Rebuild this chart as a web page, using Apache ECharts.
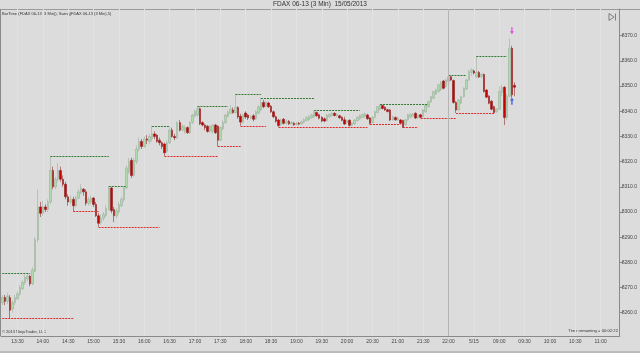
<!DOCTYPE html>
<html><head><meta charset="utf-8">
<script src="https://cdn.jsdelivr.net/npm/echarts@6/dist/echarts.min.js"></script>
<style>html,body{margin:0;padding:0;background:#dcdcdc;}#c{width:640px;height:353px;}</style>
</head><body><div id="c"></div>
<script>
// ---- axis text ----
const chartTitle = 'FDAX 06-13 (3 Min)  15/05/2013';
const indicatorText = 'BarTimer(FDAX 06-13 (3 Min)), Swing(FDAX 06-13 (3 Min),5)';
const copyrightText = '\u00A9 2013 NinjaTrader, LLC';
const timerText = 'Time remaining = 00:02:22';
const xTickLabels = ['13:30','14:00','14:30','15:00','15:30','16:00','16:30','17:00','17:30','18:00','18:30','19:00','19:30','20:00','20:30','21:00','21:30','22:00','5/15','09:00','09:30','10:00','10:30','11:00'];
const firstTickBar = 6, barsPerTick = 10, slotCount = 244, sessionBreakBar = 176;
const yTickValues = [8260,8270,8280,8290,8300,8310,8320,8330,8340,8350,8360,8370];

// ---- 3-minute bars ----
const opens = [8264,8266,8264.5,8266,8261.5,8264,8265.5,8267.5,8269.5,8272,8273.5,8274.5,8271.5,8276.5,8289,8302,8299.5,8302,8301,8304,8316.5,8310,8313,8316.5,8313,8311,8306,8304,8305,8302.5,8305.5,8307.5,8309,8308,8303.5,8304,8305.5,8303,8298.5,8295.8,8297.5,8298.5,8301,8309.5,8301,8298.5,8300,8302.5,8305,8309.5,8316,8320.5,8314.5,8320,8325,8328,8326,8329,8328,8329,8331,8330.5,8328.5,8327.5,8327,8324,8327.5,8332.5,8330,8329.5,8335.5,8332.5,8332,8333.5,8331.5,8335.5,8338,8338.5,8341,8335.5,8334.5,8334,8332,8332,8334.5,8334,8328.5,8333,8335.5,8338,8339.2,8340.5,8339.5,8341.5,8338,8335.7,8339.3,8338.5,8337.3,8338.2,8337,8339.2,8340.5,8343.5,8342,8343.3,8342,8339.8,8337.8,8336.5,8334.7,8336.8,8335.2,8336,8335,8335.2,8334.8,8335.2,8335,8335.6,8336.4,8336.6,8337.4,8337.8,8339.5,8338.6,8337.6,8337,8336.3,8337.8,8338.3,8339.2,8338.4,8338.2,8337.6,8336.6,8335.4,8336.4,8334.5,8335,8336.3,8337,8337.6,8337.8,8338.5,8337.3,8335.6,8337.6,8339.5,8340.8,8342.3,8341.6,8340.6,8340.5,8336.6,8337.5,8336.6,8336.5,8336.3,8334.7,8336.6,8337.6,8338.2,8339.2,8337.4,8338.6,8337.8,8339.8,8341.8,8343.8,8345.2,8346.8,8347.8,8348.5,8352,8349.8,8351.7,8353.7,8352.2,8343.5,8340.5,8343.2,8345.8,8348.8,8352.4,8355.4,8356,8353.6,8355.4,8353.8,8354.6,8348.4,8346,8344,8341.8,8339.8,8340.8,8347.5,8349.5,8337.5,8346,8365,8350.3];
const closes = [8266,8264.5,8266.5,8261,8264,8266,8267.5,8270,8272,8274,8274.5,8271.5,8277,8289,8302,8299.5,8302,8301,8304,8316.5,8310,8313,8316.5,8313,8311,8306,8304,8305,8302.5,8305.5,8308,8309.5,8308,8303.5,8305,8305.5,8303,8298.5,8295.5,8297.5,8299,8301.5,8309.5,8300.5,8298.5,8300.5,8303,8305,8309.5,8317.5,8320,8314.5,8320.5,8325,8328,8326,8329,8328.5,8330,8331,8330,8328,8327.5,8326,8323.5,8327.5,8332.5,8330,8329.5,8335.5,8332.5,8334,8333.5,8331.5,8335.5,8338.5,8340,8341,8335,8334.5,8333.5,8332,8334,8334.5,8331.5,8328.5,8333.5,8335.5,8338.5,8339.8,8340.8,8339.5,8341.5,8337.7,8335.7,8338.5,8337.7,8337.3,8337.8,8336.8,8339.8,8341.8,8343.5,8341.8,8343.5,8341.8,8339.8,8337.8,8336,8334.3,8336.5,8335.2,8336,8335,8335.5,8334.6,8335.2,8334.9,8335.8,8336.6,8337.4,8337.8,8338.5,8339.8,8338.2,8337.2,8336.1,8336.1,8338.5,8338.8,8339.2,8338.3,8338.8,8337.4,8336.4,8334.9,8336.3,8334.4,8335.3,8336.5,8337.6,8338.3,8338.7,8339,8337,8335.2,8337.6,8339.8,8341.8,8342.3,8341.1,8340.5,8339.9,8336.5,8337.8,8336.6,8337.3,8335.2,8333.6,8336.6,8338.6,8338.8,8338.9,8337.3,8338.4,8337.6,8340.5,8342.5,8343.8,8345.8,8347.8,8348.4,8350.5,8351.5,8349.1,8352.4,8353.7,8352.4,8343.5,8340.5,8344.5,8345.8,8349.1,8352.4,8355.7,8356.4,8355.2,8355.4,8353.6,8354.6,8347.8,8345.6,8343.2,8340.8,8339.5,8340.8,8347.8,8349.5,8337.5,8346,8365,8346.5,8349.5];
const lows = [8263,8263,8263.5,8257.9,8260,8263,8265,8266.5,8269,8271,8272.5,8270.5,8271,8276,8288,8298,8298.5,8300,8300,8303,8309,8309,8312,8312,8310,8305,8302.5,8303,8300.4,8302,8305,8307,8306.5,8302.5,8302.5,8303,8302,8298,8294.1,8295,8296.5,8298,8300.5,8299.5,8296,8297.5,8299,8302,8304,8309,8315,8313.5,8314,8319,8324,8325,8325.5,8327,8327,8328,8329,8327.5,8326.5,8325,8322.2,8323.5,8327,8329.5,8328.5,8329,8332,8332,8331,8331,8331,8335,8337.5,8338,8334.5,8334,8332.5,8331.5,8331.5,8331,8331,8326,8328,8332.5,8335,8337.5,8338.8,8339,8339,8337,8334.2,8335,8337,8336.5,8336.8,8336,8336.5,8338.8,8340,8341.2,8341.5,8341.3,8339.3,8337.3,8335.5,8333.7,8334.2,8334.7,8334.8,8334.5,8334.5,8334.2,8334.3,8334.4,8334.6,8335.2,8336,8336.2,8337,8337.3,8337.8,8336.8,8335.6,8335.6,8335.9,8337.4,8337.9,8337.9,8337.6,8337,8336,8334.5,8335,8333.9,8334.1,8334.6,8335.9,8336.6,8337.2,8337.4,8336.6,8334.7,8335.2,8337.2,8339.1,8340.4,8340.7,8340.1,8339.5,8336.1,8336.2,8336.2,8336.2,8334.8,8333.5,8334.3,8336.2,8337.2,8337.8,8336.9,8337,8337.3,8337.4,8339.4,8341.4,8343.4,8344.8,8346.4,8347.4,8348.1,8348.7,8349.4,8351.3,8352,8343,8339.3,8340.1,8342.8,8345.4,8348.4,8352,8354,8354.6,8353.2,8353.2,8353.2,8347.4,8345.2,8342.8,8340.4,8339.3,8339.4,8340.4,8346,8334.5,8336.5,8345.5,8345.3,8346];
const highs = [8267,8267,8268,8267,8265,8267,8268.5,8271,8273,8275,8275.5,8275,8278,8290,8309,8304,8304.5,8303,8305,8322.2,8318,8314,8319.5,8318,8314.5,8312,8307,8306.5,8306,8306.5,8309,8311,8309.5,8309,8306,8306.5,8306,8304,8299.5,8299,8300,8302.5,8310.3,8310,8302,8301.5,8304,8306,8310,8318.5,8321.5,8321.5,8321.5,8326.5,8329.5,8329,8330,8330.5,8331,8334.2,8332,8331,8329.5,8328,8327.5,8328.5,8334,8333.5,8331,8336,8336.5,8335,8334.5,8334,8336,8339,8340.5,8341.8,8341.5,8336,8335,8334.5,8334.5,8335,8335,8334.5,8334,8336.5,8339,8340.3,8342.5,8341.5,8346.9,8342,8339,8339,8340,8339,8338.5,8338.8,8340.3,8342.3,8345.3,8344.5,8344,8343.8,8342.5,8340.3,8338.3,8337,8337,8337.3,8336.8,8336.5,8336,8335.8,8335.8,8335.8,8336.3,8337.2,8338,8338.4,8339,8340.2,8339.9,8339,8338,8337.5,8338.9,8339.2,8339.6,8339.6,8339.2,8338.6,8338,8337.8,8336.7,8336.8,8335.7,8336.9,8338,8338.7,8339.1,8339.5,8339,8337.7,8338,8340.2,8342.2,8342.7,8342.6,8342,8341,8340.9,8338.2,8337.9,8337.9,8336.9,8336.7,8337,8339,8339.2,8339.3,8339.6,8338.8,8339,8340.9,8342.9,8344.2,8346.2,8348.2,8348.9,8350.9,8352,8352.4,8352.8,8354.4,8354.1,8352.6,8344,8344.9,8346.2,8349.5,8352.9,8356.4,8357,8356.6,8362,8356,8355,8355,8348.8,8346.4,8344.4,8342.2,8341.2,8349.8,8350.5,8350,8347,8369,8366,8351.5];

// ---- Swing indicator levels: start bar, end bar, price ----
const swingHighStart = [0,19,42,59,77,92,102,123,149,176,187];
const swingHighEnd   = [11,42,49,66,89,102,123,141,168,183,199];
const swingHighPrice = [8275.8,8322.2,8310.3,8334.2,8341.8,8346.9,8345.3,8340.2,8342.7,8354.4,8362];
const swingLowStart  = [0,28,38,64,85,94,109,145,158,165,179];
const swingLowEnd    = [28,38,62,85,94,104,144,157,164,179,194];
const swingLowPrice  = [8257.9,8300.4,8294.1,8322.2,8326,8334.2,8333.7,8334.7,8333.5,8337.3,8339.3];

// ---- markers on last bars ----
const sellArrow = [201, 8372];
const buyArrow = [201, 8344];

const cats = Array.from({length: slotCount}, (_, i) => String(i));
const labelAt = {};
xTickLabels.forEach((t, k) => { labelAt[firstTickBar + k * barsPerTick] = t; });
const isTick = (i) => labelAt[i] !== undefined;
const candles = opens.map((o, i) => [o, closes[i], lows[i], highs[i]]);
const lastClose = closes[closes.length - 1];

const swingLines = [];
swingHighPrice.forEach((p, k) => swingLines.push([
  {coord: [swingHighStart[k], p], lineStyle: {color: '#2f7a2f'}},
  {coord: [swingHighEnd[k], p]}
]));
swingLowPrice.forEach((p, k) => swingLines.push([
  {coord: [swingLowStart[k], p], lineStyle: {color: '#e02a2a'}},
  {coord: [swingLowEnd[k], p]}
]));

const FONT = 'Liberation Sans, Arial, sans-serif';
const chart = echarts.init(document.getElementById('c'), null, {renderer: 'canvas'});
chart.setOption({
  backgroundColor: '#dcdcdc',
  animation: false,
  textStyle: {fontFamily: FONT},
  grid: {left: 1, top: 9, width: 620, height: 327, show: false},
  xAxis: {
    type: 'category', data: cats, boundaryGap: true,
    axisLine: {lineStyle: {color: '#8a8a8a', width: 1}},
    axisTick: {interval: isTick, alignWithLabel: true, length: 3, lineStyle: {color: '#8a8a8a'}},
    axisLabel: {interval: isTick, formatter: v => labelAt[+v] || '', fontSize: 5, color: '#444', margin: 3, fontFamily: FONT},
    splitLine: {show: true, interval: isTick, alignWithLabel: true, lineStyle: {color: '#e2e2e2', width: 1}}
  },
  yAxis: {
    type: 'value', position: 'right', min: 8250.75, max: 8380.6, scale: true,
    axisLine: {show: true, lineStyle: {color: '#8a8a8a'}},
    axisTick: {show: true, length: 3, customValues: yTickValues, lineStyle: {color: '#8a8a8a'}},
    axisLabel: {customValues: yTickValues, formatter: v => v.toFixed(1), fontSize: 5, color: '#444', margin: 2, fontFamily: FONT},
    splitLine: {show: false}
  },
  series: [{
    type: 'candlestick',
    data: candles,
    barWidth: 2,
    itemStyle: {color: '#acdcac', color0: '#c80000', borderColor: '#94a894', borderColor0: '#801010', borderWidth: 0.5},
    markLine: {
      silent: true, symbol: ['none', 'none'], animation: false,
      label: {show: false},
      lineStyle: {type: [2, 1], width: 1},
      data: swingLines.concat([
        [{coord: [sessionBreakBar, 8250.75], lineStyle: {color: '#b4b4b4', type: 'solid'}}, {coord: [sessionBreakBar, 8380.6]}],
        {yAxis: lastClose, lineStyle: {opacity: 0},
         label: {show: true, position: 'end', distance: 3, formatter: lastClose.toFixed(1), color: '#fff', backgroundColor: '#111', fontSize: 5, padding: [1, 1, 0, 1], fontFamily: FONT}}
      ])
    }
  }, {
    type: 'scatter',
    data: [sellArrow],
    symbol: 'path://M2,0 L4,0 L4,6 L6,6 L3,10 L0,6 L2,6 Z',
    symbolSize: [4, 7],
    itemStyle: {color: '#e030e0'},
    silent: true
  }, {
    type: 'scatter',
    data: [buyArrow],
    symbol: 'path://M3,0 L6,4 L4,4 L4,10 L2,10 L2,4 L0,4 Z',
    symbolSize: [4, 7],
    itemStyle: {color: '#2040e0'},
    silent: true
  }],
  graphic: [
    {type: 'text', left: 'center', top: 1, style: {text: chartTitle, fontSize: 6.5, fill: '#333', fontFamily: FONT}},
    {type: 'line', shape: {x1: 0, y1: 9.5, x2: 640, y2: 9.5}, style: {stroke: '#9a9a9a', lineWidth: 1}},
    {type: 'line', shape: {x1: 0.5, y1: 9, x2: 0.5, y2: 336}, style: {stroke: '#8a8a8a', lineWidth: 1}},
    {type: 'text', left: 2, top: 12, style: {text: indicatorText, fontSize: 4, fill: '#333', fontFamily: FONT}},
    {type: 'text', left: 2, top: 330, style: {text: copyrightText, fontSize: 4, fill: '#333', fontFamily: FONT}},
    {type: 'text', right: 22, top: 329, style: {text: timerText, fontSize: 4.2, fill: '#333', fontFamily: FONT}},
    {type: 'polygon', shape: {points: [[609, 13.5], [609, 20.5], [614, 17]]}, style: {fill: 'none', stroke: '#666', lineWidth: 0.8}},
    {type: 'line', shape: {x1: 615.5, y1: 13.5, x2: 615.5, y2: 20.5}, style: {stroke: '#666', lineWidth: 0.8}},
    {type: 'line', shape: {x1: 0, y1: 352, x2: 640, y2: 352}, style: {stroke: '#9a9a9a', lineWidth: 1}}
  ]
});
</script></body></html>
